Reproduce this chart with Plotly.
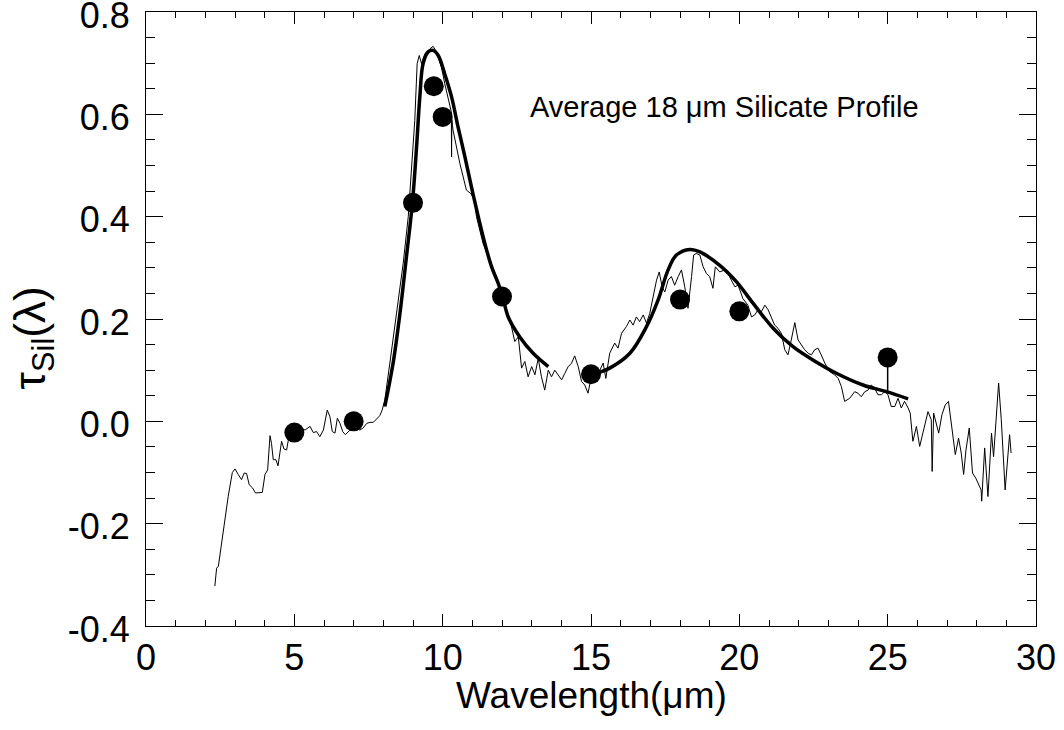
import plotly.graph_objects as go

# Observed (thin) spectrum: wavelength (um) and tau
spec_x = [2.32, 2.38, 2.44, 2.55, 2.63, 2.77, 2.91, 3.00, 3.11, 3.22, 3.31, 3.39, 3.48, 3.59, 3.69, 3.84, 3.92,
          4.01, 4.10, 4.18, 4.23, 4.29, 4.38, 4.45, 4.51, 4.57, 4.65, 4.74, 4.80, 4.95, 5.19, 5.36, 5.53, 5.64,
          5.75, 5.86, 5.98, 6.11, 6.20, 6.28, 6.37, 6.45, 6.54, 6.63, 6.72, 6.82, 7.00, 7.21, 7.32, 7.44, 7.55,
          7.66, 7.77, 7.88, 7.96, 8.05, 8.22, 8.45, 8.67, 8.84, 8.95, 9.06, 9.14, 9.21, 9.29, 9.40, 9.57, 9.68,
          9.79, 9.96, 10.07, 10.20, 10.29, 10.30, 10.31, 10.35, 10.58, 10.80, 10.95, 11.08, 11.14, 11.36, 11.59,
          11.82, 11.98, 12.15, 12.32, 12.43, 12.55, 12.66, 12.77, 12.88, 13.00, 13.11, 13.22, 13.33, 13.44,
          13.56, 13.67, 13.78, 13.89, 14.01, 14.12, 14.23, 14.34, 14.45, 14.57, 14.68, 14.79, 14.90, 15.02,
          15.13, 15.30, 15.41, 15.50, 15.63, 15.80, 15.91, 16.03, 16.19, 16.31, 16.42, 16.53, 16.64, 16.76,
          16.87, 16.98, 17.09, 17.21, 17.30, 17.40, 17.49, 17.60, 17.71, 17.82, 17.94, 18.05, 18.16, 18.27,
          18.39, 18.46, 18.55, 18.67, 18.78, 18.89, 19.00, 19.11, 19.19, 19.34, 19.51, 19.62, 19.73, 19.85,
          19.96, 20.12, 20.29, 20.41, 20.52, 20.63, 20.74, 20.86, 20.97, 21.08, 21.19, 21.30, 21.42, 21.53,
          21.64, 21.75, 21.87, 21.98, 22.09, 22.20, 22.32, 22.43, 22.54, 22.65, 22.76, 22.88, 23.05, 23.21,
          23.33, 23.44, 23.55, 23.72, 23.89, 24.00, 24.11, 24.23, 24.34, 24.45, 24.56, 24.67, 24.79, 24.90,
          25.01, 25.12, 25.24, 25.35, 25.46, 25.57, 25.69, 25.76, 25.85, 25.97, 26.08, 26.19, 26.36, 26.47,
          26.50, 26.55, 26.72, 26.83, 26.94, 27.05, 27.16, 27.28, 27.39, 27.48, 27.56, 27.64, 27.75, 27.86,
          27.97, 28.06, 28.15, 28.17, 28.27, 28.38, 28.50, 28.57, 28.74, 28.83, 28.96, 29.11, 29.16]
spec_y = [-0.322, -0.287, -0.283, -0.238, -0.202, -0.147, -0.100, -0.093, -0.104, -0.114, -0.101, -0.102, -0.124,
          -0.130, -0.140, -0.140, -0.139, -0.104, -0.095, -0.028, -0.043, -0.075, -0.075, -0.087, -0.065, -0.039,
          -0.054, -0.056, -0.036, -0.025, -0.013, -0.017, -0.010, -0.022, -0.020, -0.030, -0.017, 0.022, 0.009,
          -0.020, -0.023, 0.006, -0.004, -0.020, -0.026, -0.020, -0.010, -0.017, -0.013, -0.004, -0.002, -0.002,
          0.004, 0.011, 0.022, 0.042, 0.114, 0.211, 0.309, 0.400, 0.491, 0.588, 0.699, 0.715, 0.699, 0.718,
          0.728, 0.733, 0.722, 0.692, 0.660, 0.630, 0.605, 0.517, 0.590, 0.569, 0.504, 0.452, 0.445, 0.432,
          0.400, 0.348, 0.315, 0.283, 0.257, 0.214, 0.185, 0.156, 0.165, 0.104, 0.117, 0.087, 0.107, 0.091,
          0.123, 0.087, 0.061, 0.100, 0.087, 0.100, 0.091, 0.081, 0.094, 0.107, 0.113, 0.128, 0.107, 0.078,
          0.071, 0.055, 0.090, 0.075, 0.100, 0.114, 0.084, 0.133, 0.153, 0.143, 0.172, 0.185, 0.198, 0.188,
          0.204, 0.195, 0.208, 0.192, 0.211, 0.244, 0.276, 0.292, 0.262, 0.253, 0.276, 0.283, 0.266, 0.283,
          0.296, 0.263, 0.221, 0.283, 0.325, 0.328, 0.325, 0.302, 0.289, 0.283, 0.260, 0.302, 0.292, 0.296,
          0.289, 0.276, 0.263, 0.266, 0.240, 0.227, 0.204, 0.208, 0.218, 0.214, 0.227, 0.218, 0.204, 0.188,
          0.182, 0.172, 0.140, 0.130, 0.159, 0.193, 0.159, 0.149, 0.140, 0.133, 0.130, 0.140, 0.143, 0.130,
          0.114, 0.097, 0.091, 0.084, 0.068, 0.039, 0.045, 0.058, 0.055, 0.048, 0.058, 0.061, 0.071, 0.065,
          0.052, 0.052, 0.058, 0.052, 0.029, 0.029, 0.045, 0.026, 0.039, 0.026, 0.016, -0.039, -0.010, -0.049,
          -0.023, 0.019, 0.003, -0.098, 0.016, -0.023, 0.013, 0.032, 0.039, -0.010, -0.065, -0.033, -0.062,
          -0.104, -0.056, -0.013, -0.101, -0.111, -0.121, -0.134, -0.156, -0.052, -0.147, -0.023, -0.069,
          0.075, 0.003, -0.134, -0.026, -0.062]

# Model profile (thick) - 10 um segment and 18 um segment
model1_x = [8.05, 8.33, 8.56, 8.78, 8.98, 9.12, 9.23, 9.34, 9.51, 9.68, 9.85, 10.07, 10.30, 10.52, 10.75,
            10.97, 11.20, 11.42, 11.65, 11.87, 12.02, 12.21, 12.60, 13.05, 13.56]
model1_y = [0.029, 0.114, 0.211, 0.322, 0.427, 0.536, 0.634, 0.699, 0.722, 0.725, 0.715, 0.679, 0.634, 0.575,
            0.517, 0.458, 0.400, 0.348, 0.302, 0.270, 0.244, 0.204, 0.165, 0.133, 0.107]
model2_x = [15.02, 15.63, 16.31, 16.87, 17.26, 17.60, 17.88, 18.33, 18.67, 19.34, 19.90, 20.46, 21.14, 21.81,
            22.48, 23.27, 24.17, 24.96, 25.69]
model2_y = [0.091, 0.104, 0.133, 0.185, 0.237, 0.296, 0.325, 0.336, 0.331, 0.305, 0.273, 0.231, 0.182, 0.146,
            0.120, 0.094, 0.071, 0.058, 0.044]

# Photometric points
pts_x = [5, 7, 9, 9.7, 10, 12, 15, 18, 20, 25]
pts_y = [-0.022, 0.0, 0.427, 0.655, 0.595, 0.244, 0.092, 0.238, 0.215, 0.125]
pts_err_minus = [0, 0, 0, 0, 0, 0, 0, 0, 0, 0.067]

yticks = [-0.4, -0.2, 0.0, 0.2, 0.4, 0.6, 0.8]
yticktext = ["-0.4", "-0.2", "0.0", "0.2", "0.4", "0.6", "0.8"]
xticks = [0, 5, 10, 15, 20, 25, 30]
xticktext = ["0", "5", "10", "15", "20", "25", "30"]

FONT = "Liberation Sans, Arial, Helvetica, sans-serif"
TICKSIZE = 36

fig = go.Figure()
fig.add_trace(go.Scatter(x=spec_x, y=spec_y, mode="lines",
                         line=dict(color="black", width=1), showlegend=False))
fig.add_trace(go.Scatter(x=model1_x, y=model1_y, mode="lines", line_shape="spline",
                         line=dict(color="black", width=3.5), showlegend=False))
fig.add_trace(go.Scatter(x=model2_x, y=model2_y, mode="lines", line_shape="spline",
                         line=dict(color="black", width=3.5), showlegend=False))
fig.add_trace(go.Scatter(x=pts_x, y=pts_y, mode="markers",
                         marker=dict(color="black", size=20),
                         error_y=dict(type="data", symmetric=False, array=[0] * len(pts_x),
                                      arrayminus=pts_err_minus, width=0, thickness=1.5, color="black"),
                         showlegend=False))

axis_common = dict(showgrid=False, zeroline=False, showline=True, linecolor="black", linewidth=1,
                   mirror="allticks", ticks="inside", tickcolor="black", tickwidth=1,
                   ticklabeloverflow="allow", automargin=False,
                   tickfont=dict(family=FONT, size=TICKSIZE, color="black"))

fig.update_xaxes(range=[0, 30.0001], tickvals=xticks, ticktext=xticktext, ticklen=12,
                 minor=dict(dtick=1, ticklen=6, ticks="inside", tickcolor="black", tickwidth=1),
                 **axis_common)
fig.update_yaxes(range=[-0.4, 0.80001], tickvals=yticks, ticktext=yticktext, ticklen=17,
                 ticklabelstandoff=8, ticklabelshift=3,
                 minor=dict(dtick=0.05, ticklen=9, ticks="inside", tickcolor="black", tickwidth=1),
                 **axis_common)

fig.add_annotation(x=19.5, y=0.614, xref="x", yref="y", text="Average 18 μm Silicate Profile",
                   showarrow=False, font=dict(family=FONT, size=29, color="black"))
fig.add_annotation(x=0.5, y=-0.114, xref="paper", yref="paper", text="Wavelength(μm)",
                   showarrow=False, xanchor="center", yanchor="middle",
                   font=dict(family=FONT, size=37, color="black"))
fig.add_annotation(x=-0.127, y=0.47, xref="paper", yref="paper", text="τ<sub>Sil</sub>(λ)",
                   textangle=-90, showarrow=False, xanchor="center", yanchor="middle",
                   font=dict(family=FONT, size=44, color="black"))

fig.update_layout(width=1064, height=730, margin=dict(l=146, r=28, t=12, b=104, autoexpand=False),
                  plot_bgcolor="white", paper_bgcolor="white")

fig.write_html("out.html", config={"displayModeBar": False},
               post_script="document.body.style.margin='0';document.body.style.overflow='hidden';")
